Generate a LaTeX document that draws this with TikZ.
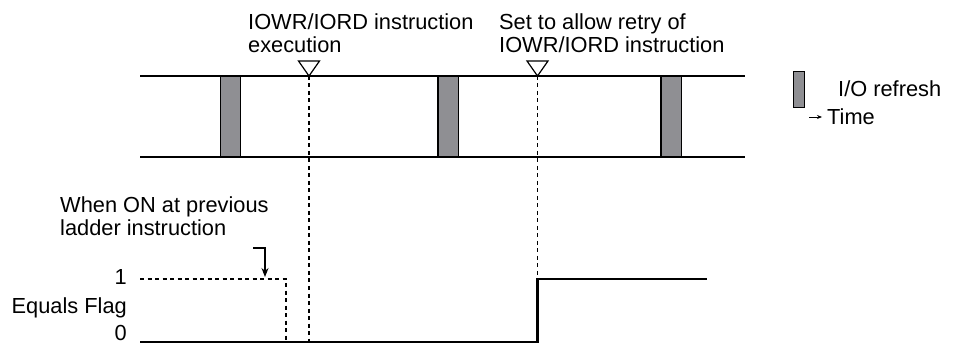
\documentclass[tikz,border=0pt]{standalone}
\usepackage{fontspec}
\setmainfont{Liberation Sans}
\usetikzlibrary{arrows.meta}
\begin{document}
\begin{tikzpicture}[x=1pt,y=-1pt,
  lbl/.style={inner sep=0pt,font=\fontsize{21.8}{24}\selectfont,anchor=base west},
  lblr/.style={inner sep=0pt,font=\fontsize{21.8}{24}\selectfont,anchor=base east},
  rail/.style={line width=1.8pt},
  refresh/.style={draw=black,line width=1.1pt,fill={rgb,255:red,143;green,143;blue,147}},
  tick/.style={line width=1.3pt,dash pattern=on 4pt off 3.5pt},
  sig/.style={line width=2.3pt},
  tri/.style={draw=black,line width=1.2pt,fill=white}]
\useasboundingbox (0,0) rectangle (957,344);
% rails
\coordinate (r1a) at (140,76); \coordinate (r1b) at (745,76);
\coordinate (r2a) at (140,157); \coordinate (r2b) at (745,157);
\draw[rail] (r1a) -- (r1b);
\draw[rail] (r2a) -- (r2b);
% refresh bars
\draw[refresh] (220.5,76) rectangle (240.5,157);
\draw[refresh] (438,76) rectangle (458.5,157);
\draw[refresh] (661,76) rectangle (681.5,157);
% markers
\coordinate (m1) at (309,76); \coordinate (m2) at (537.5,76);
\draw[tri] (298.5,61) -- (319.5,61) -- (m1) -- cycle;
\draw[tri] (527,61) -- (548,61) -- (m2) -- cycle;
\coordinate (m1b) at (309,342);
\coordinate (m2b) at (537.5,279);
\draw[tick] (m1) -- (m1b);
\draw[tick] (m2) -- (m2b);
% top labels
\node[lbl] (t1) at (248,30) {IOWR/IORD instruction};
\node[lbl] (t2) at (248,53) {execution};
\node[lbl] (t3) at (499,30) {Set to allow retry of};
\node[lbl] (t4) at (499,53) {IOWR/IORD instruction};
% legend
\draw[refresh,line width=1pt] (793,72) rectangle (804,108);
\node[lbl] (lg1) at (838,97) {I/O refresh};
\node[lbl] (lg2) at (827,125) {Time};
\coordinate (ta) at (809,117); \coordinate (tb) at (822,117);
\draw[line width=0.9pt,-{Stealth[length=5pt,width=4pt]}] (ta) -- (tb);
% signal
\node[lblr] (one) at (127,284) {1};
\node[lblr] (eq) at (127,313) {Equals Flag};
\node[lblr] (zero) at (127,340.5) {0};
\coordinate (s0) at (140,342); \coordinate (s1) at (537.5,342);
\coordinate (s2) at (537.5,279); \coordinate (s3) at (707,279);
\draw[sig,line join=miter] (s0) -- (s1) -- (s2) -- (s3);
\coordinate (d0) at (140,279); \coordinate (d1) at (286,279); \coordinate (d2) at (286,342);
\draw[tick] (d0) -- (d1) -- (d2);
% annotation
\node[lbl] (w1) at (60,213) {When ON at previous};
\node[lbl] (w2) at (60,236) {ladder instruction};
\coordinate (a0) at (253,248); \coordinate (a1) at (265,248); \coordinate (a2) at (265,277);
\draw[line width=1.1pt,-{Stealth[length=9pt,width=7pt]}] (a0) -- (a1) -- (a2);
\end{tikzpicture}
\end{document}
